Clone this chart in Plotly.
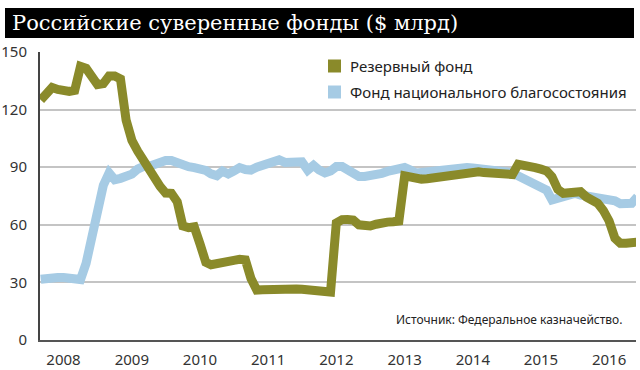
import pandas as pd
import plotly.graph_objects as go

# Monthly values, $ bn (Sep 2007 .. Jun 2016)
reserve_fund = [
    125, 128.5, 131.5, 130.5,
    129.5, 129.5, 130, 142.5, 141.5, 138, 133, 133.5, 137.5, 137.5, 136, 114.6,
    104, 98.4, 93.75, 89, 85, 80, 76.5, 76.4, 72, 59.4, 58.5, 59,
    50, 40.5, 39.2, 39.5, 40.5, 41, 41.5, 42, 41.7, 32, 26, 26.2,
    26.4, 26.6, 26.8, 26.9, 26.8, 26.6, 26.4, 26, 25.7, 25.4, 25.2, 25,
    61, 62.7, 62.8, 62.5, 60, 59.3, 59.4, 60.3, 61.2, 61.4, 61.6, 62,
    85.5, 85, 83.5, 83.8, 84, 84.4, 85, 85.6, 86.2, 86.8, 87.4, 87.7,
    87.7, 87.6, 87.2, 87, 86.9, 86.7, 86.4, 86.2, 91.5, 91.2, 90.6, 89.8,
    89, 88, 85, 78.5, 76.4, 76.4, 76.6, 77.2, 74.5, 72.5, 71.2, 67.5,
    62, 53, 50.4, 50.4, 50.4, 51,
]
wealth_fund = [
    31.6, 32.2, 32.6, 32.6,
    32.6, 32.5, 32.5, 31.5, 40, 54.7, 67.8, 80.5, 87, 83.5, 84.2, 85.2,
    86.4, 89, 90.3, 90.4, 91.8, 93, 93.5, 93.5, 92.2, 90.8, 90.3, 89.8,
    89.3, 88.3, 86.5, 85.6, 88, 86.5, 88, 89.8, 88.8, 88.5, 90, 91.1,
    92, 93, 93.8, 92.5, 92.7, 92.9, 92.8, 88.5, 91, 88.5, 87, 88,
    90.3, 90.3, 89, 86.5, 85.2, 85.2, 85.5, 85.9, 86.8, 87.8, 88.5, 89.5,
    89.8, 88.5, 87, 87.3, 87.6, 88, 88.4, 88.8, 89.2, 89.6, 90.2, 89.8,
    89.6, 89.4, 89, 88.6, 88.2, 88, 87.5, 87, 85.5, 84.4, 83, 81.8,
    80.8, 78, 73, 74, 74.8, 75.5, 76.4, 75.5, 75, 74.6, 74.2, 74,
    73.6, 72.5, 71, 70.9, 71.2, 74.6,
]
dates = pd.date_range("2007-09-01", periods=len(reserve_fund), freq="MS")

year_labels = ["2008", "2009", "2010", "2011", "2012", "2013", "2014", "2015", "2016"]
year_ticks = [f"{y}-01-01" for y in year_labels]
y_ticks = [0, 30, 60, 90, 120, 150]

title_text = "Российские суверенные фонды ($ млрд)"
name_reserve = "Резервный фонд"
name_wealth = "Фонд национального благосостояния"
source_text = "Источник: Федеральное казначейство."

OLIVE = "#8a8a2a"
BLUE = "#a6cbe4"

fig = go.Figure()
fig.add_trace(go.Scatter(x=dates, y=wealth_fund, mode="lines", name=name_wealth,
                         line=dict(color=BLUE, width=9), showlegend=False))
fig.add_trace(go.Scatter(x=dates, y=reserve_fund, mode="lines", name=name_reserve,
                         line=dict(color=OLIVE, width=9), showlegend=False))

W, H = 640, 370
L, R, T, B = 40, 4, 52, 30
pw, ph = W - L - R, H - T - B

def px(x):
    return (x - L) / pw

def py(y):
    return (H - B - y) / ph

# title bar
fig.add_shape(type="rect", xref="paper", yref="paper",
              x0=px(5), x1=px(634), y0=py(38), y1=py(8),
              fillcolor="black", line=dict(width=0), layer="above")
fig.add_annotation(text=title_text, xref="paper", yref="paper",
                   x=px(10), y=py(23), xanchor="left", yanchor="middle",
                   showarrow=False,
                   font=dict(family="DejaVu Serif", size=21, color="white"))

# legend (manual, swatches + labels)
for (name, color, cy) in [(name_reserve, OLIVE, 66), (name_wealth, BLUE, 92)]:
    fig.add_shape(type="rect", xref="paper", yref="paper",
                  x0=px(328), x1=px(341), y0=py(cy + 6.5), y1=py(cy - 6.5),
                  fillcolor=color, line=dict(width=0))
    fig.add_annotation(text=name, xref="paper", yref="paper",
                       x=px(348), y=py(cy), xanchor="left", yanchor="middle",
                       showarrow=False,
                       font=dict(family="Noto Sans", size=15, color="#222"))

fig.add_annotation(text=source_text, xref="paper", yref="paper",
                   x=px(624), y=py(319), xanchor="right", yanchor="middle",
                   showarrow=False,
                   font=dict(family="Noto Sans", size=12, color="#222"))

fig.update_layout(
    width=W, height=H,
    margin=dict(l=L, r=R, t=T, b=B, autoexpand=False),
    paper_bgcolor="white", plot_bgcolor="white",
    font=dict(family="Noto Sans", size=15, color="#333"),
    showlegend=False,
    xaxis=dict(range=["2007-08-28", "2016-05-24"], tickvals=year_ticks,
               ticktext=year_labels, showgrid=False, zeroline=False,
               showline=True, linecolor="#555", linewidth=2, ticks="",
               ticklabelstandoff=5),
    yaxis=dict(range=[0, 150], tickvals=y_ticks, showgrid=True,
               gridcolor="#c4c4c4", gridwidth=1.5, zeroline=False,
               showline=True, linecolor="#444", linewidth=2, ticks="",
               ticklabelstandoff=8),
)

fig.write_html("out.html", config={"displayModeBar": False},
               post_script="document.body.style.margin='0';document.body.style.overflow='hidden';")
